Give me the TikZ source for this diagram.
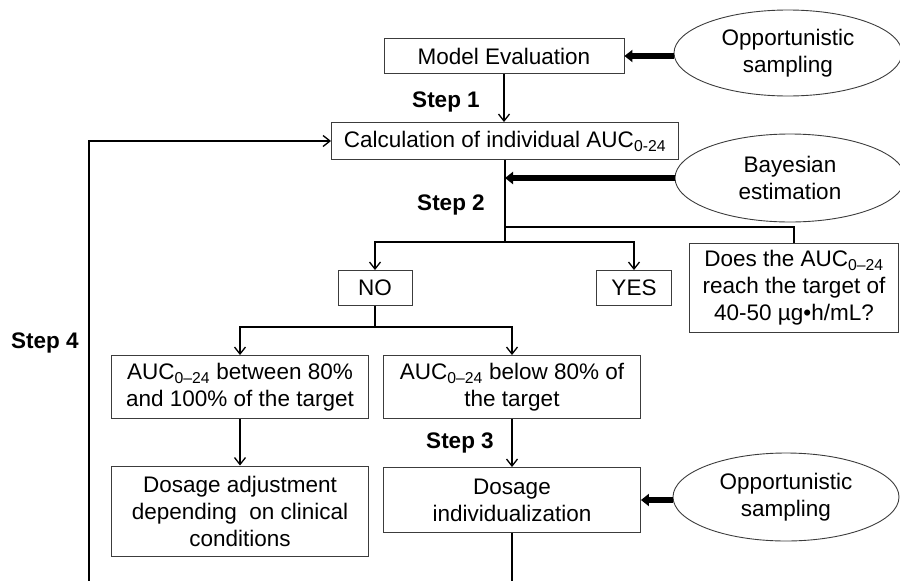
\documentclass[tikz,border=0pt]{standalone}
\usepackage{fontspec}
\setmainfont{Liberation Sans}
\usepackage{tikz}
\usetikzlibrary{arrows.meta,shapes.geometric,positioning}
\definecolor{fcgray}{RGB}{60,60,60}

\begin{document}
\begin{tikzpicture}[x=1pt,y=-1pt,
  every node/.style={font=\fontsize{22.5}{27}\selectfont},
  fcbox/.style={draw=fcgray, line width=0.9pt, align=center, inner sep=0pt},
  fcoval/.style={ellipse, draw=fcgray, line width=0.9pt, align=center, inner sep=0pt},
  fcstep/.style={font=\fontsize{22.5}{27}\selectfont\bfseries},
  fcline/.style={line width=1.3pt},
  fcarrow/.style={fcline, -{Straight Barb[length=7pt,width=11pt]}},
  fcfeed/.style={line width=6pt, -{Triangle[length=8pt,width=12pt]}}]
\useasboundingbox (0,0) rectangle (900,581);

\node[fcbox, minimum width=240, minimum height=35] (model) at (504,56) {Model Evaluation};
\node[fcoval, minimum width=228, minimum height=86] (opp1) at (788,53) {Opportunistic\\sampling};
\draw[fcfeed] (opp1.west |- model.east) -- (model.east);
\node[fcstep] (step1) at (446,102) {Step 1};
\node[fcbox, minimum width=347, minimum height=37] (calc) at (505,141) {Calculation of individual AUC\textsubscript{0-24}};
\draw[fcarrow] (model.south) -- (model.south |- calc.north);

\node[fcoval, minimum width=230, minimum height=88] (bayes) at (790,178) {Bayesian\\estimation};
\draw[fcfeed] (bayes.west) -- (bayes.west -| calc.south);
\node[fcstep] (step2) at (451,205) {Step 2};
\coordinate (tap) at (505,227);
\coordinate (fork) at (505,242);
\node[fcbox, minimum width=74, minimum height=35] (no) at (375,288) {NO};
\node[fcbox, minimum width=75, minimum height=35] (yes) at (634,288) {YES};
\node[fcbox, minimum width=209, minimum height=89] (does) at (794,288) {Does the AUC\textsubscript{0–24}\\reach the target of\\40-50 µg•h/mL?};
\draw[fcline] (calc.south) -- (fork);
\draw[fcline] (tap) -| (does.north);
\draw[fcarrow] (fork) -| (no.north);
\draw[fcarrow] (fork) -| (yes.north);

\coordinate (nofork) at (375,327);
\node[fcbox, minimum width=257, minimum height=63] (mid) at (240,387) {AUC\textsubscript{0–24} between 80\%\\and 100\% of the target};
\node[fcbox, minimum width=257, minimum height=63] (low) at (512,387) {AUC\textsubscript{0–24} below 80\% of\\the target};
\draw[fcline] (no.south) -- (nofork);
\draw[fcarrow] (nofork) -| (mid.north);
\draw[fcarrow] (nofork) -| (low.north);

\node[fcbox, minimum width=257, minimum height=90] (adjust) at (240,511) {Dosage adjustment\\depending~ on clinical\\conditions};
\node[fcbox, minimum width=257, minimum height=65] (indiv) at (512,500) {Dosage\\individualization};
\node[fcoval, minimum width=226, minimum height=88] (opp2) at (786,497) {Opportunistic\\sampling};
\draw[fcarrow] (mid.south) -- (adjust.north);
\draw[fcarrow] (low.south) -- (indiv.north);
\node[fcstep] (step3) at (460,443) {Step 3};
\draw[fcfeed] (opp2.west |- indiv.east) -- (indiv.east);

\coordinate (loop) at (89,600);
\draw[fcarrow] (indiv.south) |- (loop) |- (calc.west);
\node[fcstep] (step4) at (45,343) {Step 4};
\end{tikzpicture}
\end{document}
